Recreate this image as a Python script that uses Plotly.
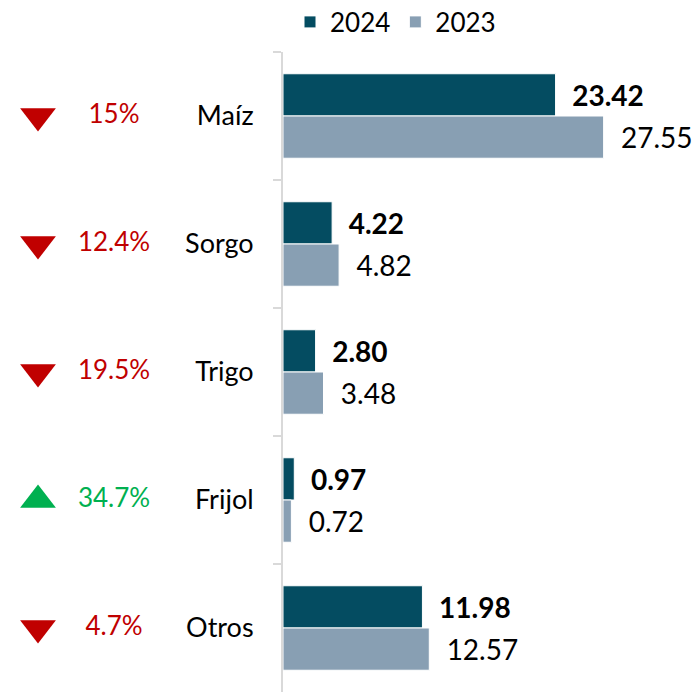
import plotly.graph_objects as go

categories = ["Maíz", "Sorgo", "Trigo", "Frijol", "Otros"]
values_2024 = [23.42, 4.22, 2.80, 0.97, 11.98]
values_2023 = [27.55, 4.82, 3.48, 0.72, 12.57]
pct_change = [-15, -12.4, -19.5, 34.7, -4.7]

W, H = 695, 692
AX_X = 283  # pixel where the bar axis starts
TOP = 52

DARK = "#044C61"
LIGHT = "#889FB3"
RED = "#C00000"
GREEN = "#00B050"
FONT = "Lato"
NB = "\u00a0\u00a0"

fig = go.Figure()
fig.add_trace(go.Bar(
    y=categories, x=values_2024, name="2024", orientation="h",
    marker=dict(color=DARK, line=dict(color="white", width=1)),
    texttemplate=NB + "%{x:.2f}", textposition="outside",
    textfont=dict(family=FONT, size=28, color="black", weight="bold"),
    cliponaxis=False, constraintext="none",
))
fig.add_trace(go.Bar(
    y=categories, x=values_2023, name="2023", orientation="h",
    marker=dict(color=LIGHT, line=dict(color="white", width=1)),
    texttemplate=NB + "%{x:.2f}", textposition="outside",
    textfont=dict(family=FONT, size=28, color="black"),
    cliponaxis=False, constraintext="none",
))

def fmt(p):
    a = abs(p)
    s = f"{a:.1f}".rstrip("0").rstrip(".")
    return s + "%"

colors = [GREEN if p > 0 else RED for p in pct_change]
symbols = ["triangle-up" if p > 0 else "triangle-down" for p in pct_change]

fig.add_trace(go.Scatter(
    y=categories, x=[38] * len(categories), xaxis="x2", yaxis="y",
    mode="markers", marker=dict(symbol=symbols, color=colors, size=31),
    showlegend=False, hoverinfo="skip", cliponaxis=False,
))
fig.add_trace(go.Scatter(
    y=categories, x=[114] * len(categories), xaxis="x2", yaxis="y",
    mode="text", text=[fmt(p) for p in pct_change],
    textfont=dict(family=FONT, size=26, color=colors),
    textposition="middle center",
    showlegend=False, hoverinfo="skip", cliponaxis=False,
))

fig.update_layout(
    width=W, height=H,
    margin=dict(l=0, r=0, t=TOP, b=0, autoexpand=False),
    plot_bgcolor="white", paper_bgcolor="white",
    barmode="group", bargap=0.34, bargroupgap=0,
    font=dict(family=FONT, size=26, color="black"),
    xaxis=dict(domain=[AX_X / W, 1], range=[0, 35.4], visible=False,
               showgrid=False, zeroline=False, automargin=False),
    xaxis2=dict(domain=[0, AX_X / W], range=[0, AX_X], visible=False,
                anchor="y", showgrid=False, zeroline=False, automargin=False),
    yaxis=dict(autorange="reversed", showline=True, linecolor="#D9D9D9",
               linewidth=2, ticks="outside", tickson="boundaries",
               ticklen=8, tickcolor="#D9D9D9", tickwidth=2,
               ticklabelstandoff=22, showgrid=False, automargin=False,
               tickfont=dict(family=FONT, size=27, color="black")),
    legend=dict(orientation="h", x=290 / W, xanchor="left",
                y=1 + 30 / (H - TOP), yanchor="middle",
                font=dict(family=FONT, size=26, color="black"),
                traceorder="normal", itemwidth=30),
    showlegend=True,
)

fig.write_html("out.html", config={"displayModeBar": False},
               post_script="document.body.style.margin='0';")
